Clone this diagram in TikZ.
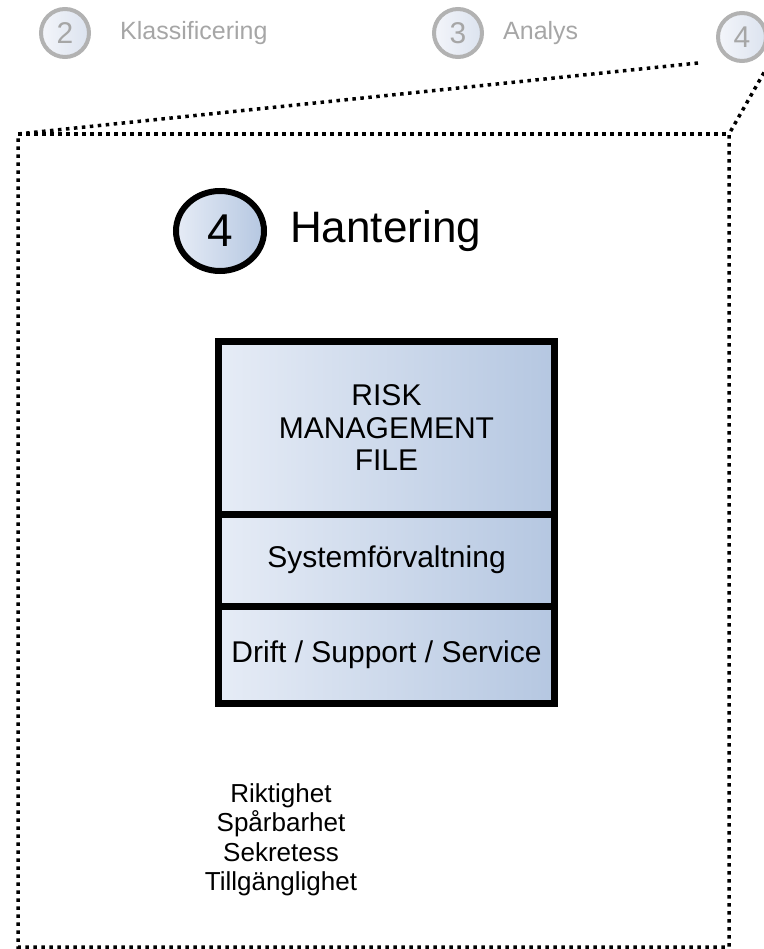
\documentclass[tikz,border=0pt]{standalone}
\usepackage{fontspec}
\setmainfont{Liberation Sans}
\usetikzlibrary{arrows,calc,shapes,shapes.geometric,positioning}
\definecolor{boxL}{HTML}{E6ECF6}
\definecolor{boxR}{HTML}{B5C7E1}
\definecolor{stepL}{HTML}{F3F5FA}
\definecolor{stepR}{HTML}{DCE3EF}
\definecolor{stepgray}{HTML}{B2B2B2}
\definecolor{steptext}{HTML}{A6A6A6}

\begin{document}
\begin{tikzpicture}[x=1pt,y=-1pt,
    stepcircle/.style={circle,draw=stepgray,line width=4pt,minimum size=48pt,inner sep=0pt,
      left color=stepL,right color=stepR,text=steptext,font=\fontsize{30}{30}\selectfont},
    steplabel/.style={text=steptext,inner sep=0pt,font=\fontsize{25}{25}\selectfont},
    layer/.style={rectangle,draw,line width=7pt,minimum width=336pt,inner sep=0pt,outer sep=0pt,
      left color=boxL,right color=boxR,align=center,font=\fontsize{30}{32.5}\selectfont},
    zoomline/.style={line width=3.5pt,dash pattern=on 3.5pt off 4.5pt}]
  \useasboundingbox (0,0) rectangle (763,949);

  %steg
    \node[stepcircle] (c2) at (65,33) {2};
    \node[steplabel,right=29pt of c2] (klass) {Klassificering};
    \node[stepcircle] (c3) at (458,33) {3};
    \node[steplabel,right=19pt of c3] (analys) {Analys};
    \node[stepcircle] (c4) at (742,37) {4};

  %zoom
    \coordinate (zl) at (698,63);
    \coordinate (zr) at (770,62);
    \coordinate (tl) at (18,134);
    \coordinate (tr) at (729,134);
    \coordinate (bl) at (18,947);
    \coordinate (br) at (729,947);
    \draw[zoomline] (zl)--(tl)--(bl)--(br)--(tr)--(zr);
    \draw[zoomline] (tl)--(tr);

  %rubrik
    \node[ellipse,draw,line width=6pt,minimum width=88pt,minimum height=80pt,inner sep=0pt,
      left color=boxL,right color=boxR,font=\fontsize{46}{46}\selectfont] (s4) at (220,231) {4};
    \node[right=23pt of s4,inner sep=0pt,font=\fontsize{44}{44}\selectfont] (hant) {Hantering};

  %lager
    \node[layer,minimum height=172.5pt] (risk) at (386.5,427.75) {RISK\\MANAGEMENT\\FILE};
    \node[layer,minimum height=92pt,below=0pt of risk] (sysf) {Systemförvaltning};
    \node[layer,minimum height=97.5pt,below=0pt of sysf] (drift) {Drift / Support / Service};

  %krav
    \node[align=center,inner sep=0pt,font=\fontsize{26}{29.5}\selectfont] (krav) at (281,840)
      {Riktighet\\Spårbarhet\\Sekretess\\Tillgänglighet};
\end{tikzpicture}
\end{document}
